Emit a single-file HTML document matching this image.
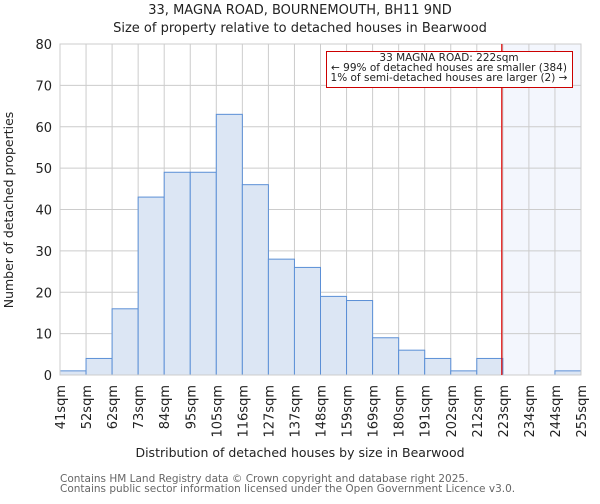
<!DOCTYPE html>
<html><head><meta charset="utf-8"><style>
body{margin:0;background:#fff;font-family:"DejaVu Sans","Liberation Sans",sans-serif;}
</style></head><body>
<svg width="600" height="500" xmlns="http://www.w3.org/2000/svg" font-family="DejaVu Sans, Liberation Sans, sans-serif">
<text x="300" y="14" text-anchor="middle" font-size="13" fill="#222">33, MAGNA ROAD, BOURNEMOUTH, BH11 9ND</text>
<text x="300" y="32" text-anchor="middle" font-size="13" fill="#222">Size of property relative to detached houses in Bearwood</text>
<g id="plot"></g>
<text x="300" y="457" text-anchor="middle" font-size="12.5" fill="#222">Distribution of detached houses by size in Bearwood</text>
<text transform="translate(13,210) rotate(-90)" text-anchor="middle" font-size="12.5" fill="#222">Number of detached properties</text>
<text x="60" y="482" font-size="10.5" fill="#666">Contains HM Land Registry data © Crown copyright and database right 2025.</text>
<text x="60" y="492" font-size="10.5" fill="#666">Contains public sector information licensed under the Open Government Licence v3.0.</text>
</svg>
<script>
const categories=["41sqm","52sqm","62sqm","73sqm","84sqm","95sqm","105sqm","116sqm","127sqm","137sqm","148sqm","159sqm","169sqm","180sqm","191sqm","202sqm","212sqm","223sqm","234sqm","244sqm","255sqm"];
const counts=[1,4,16,43,49,49,63,46,28,26,19,18,9,6,4,1,4,0,0,1];
const yTicks=[0,10,20,30,40,50,60,70,80];
const markerBin=16.96;
const NS="http://www.w3.org/2000/svg";
const X0=60,X1=581,Y0=375,Y1=44,nb=counts.length;
const bw=(X1-X0)/nb;
const xs=i=>X0+i*bw;
const ys=v=>Y0-(v/80)*(Y0-Y1);
const g=document.getElementById('plot');
function mk(t,a){const e=document.createElementNS(NS,t);for(const k in a)e.setAttribute(k,a[k]);g.appendChild(e);return e;}
let e;
e=mk('rect',{x:xs(markerBin),y:Y1,width:X1-xs(markerBin),height:Y0-Y1,fill:'#f3f6fd'});


yTicks.forEach(v=>{
 e=mk('line',{x1:X0,x2:X1,y1:ys(v),y2:ys(v),stroke:'#cccccc','stroke-width':1});
 
 
 e=mk('text',{x:X0-8,y:ys(v)+5,'text-anchor':'end','font-size':13,fill:'#222'});e.textContent=v;
 
 
});
categories.forEach((c,i)=>{
 e=mk('line',{x1:xs(i),x2:xs(i),y1:Y1,y2:Y0,stroke:'#cccccc','stroke-width':1});
 
 
 e=mk('text',{transform:`translate(${xs(i)+5},${Y0+10}) rotate(-90)`,'text-anchor':'end','font-size':13,fill:'#222'});e.textContent=c;
 
 
});
counts.forEach((v,i)=>{
 if(v<=0)return;
 e=mk('rect',{x:xs(i),y:ys(v),width:bw,height:Y0-ys(v),fill:'#dce6f4',stroke:'#5b8fd6','stroke-width':1});
 
 
});
e=mk('rect',{x:X0,y:Y1,width:X1-X0,height:Y0-Y1,fill:'none',stroke:'#cccccc'});


e=mk('line',{x1:xs(markerBin),x2:xs(markerBin),y1:Y1,y2:Y0,stroke:'#dd0000','stroke-width':1.2});


e=mk('rect',{x:326.5,y:51.5,width:246,height:36,fill:'#fff',stroke:'#cc0000','stroke-width':1});


["33 MAGNA ROAD: 222sqm","← 99% of detached houses are smaller (384)","1% of semi-detached houses are larger (2) →"].forEach((t,k)=>{
 e=mk('text',{x:449,y:61+k*10,'text-anchor':'middle','font-size':10.5,fill:'#222'});e.textContent=t;
 
 
});
</script>
</body></html>
